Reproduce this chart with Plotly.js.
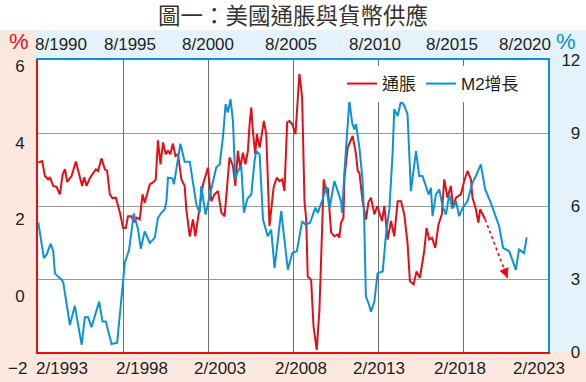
<!DOCTYPE html>
<html><head><meta charset="utf-8">
<script src="https://cdn.plot.ly/plotly-3.0.1.min.js"></script>
<style>html,body{margin:0;padding:0;background:#fff;}#chart{width:586px;height:382px;}</style>
</head><body><div id="chart"></div>
<script>
const titleText = '圖一：美國通脹與貨幣供應';
const seriesNames = ['通脹', 'M2增長'];

// Inflation (CPI yoy %), dated on bottom axis (decimal year)
const cpiYears = [1993.10,1993.33,1993.49,1993.68,1993.78,1993.98,1994.18,1994.37,1994.53,1994.67,1994.80,1995.06,1995.31,1995.55,1995.68,1995.80,1995.94,1996.13,1996.33,1996.49,1996.62,1996.82,1997.01,1997.15,1997.31,1997.47,1997.66,1997.78,1997.90,1998.09,1998.25,1998.38,1998.58,1998.72,1998.91,1999.07,1999.17,1999.23,1999.36,1999.66,1999.89,2000.01,2000.14,2000.29,2000.44,2000.60,2000.73,2000.87,2001.02,2001.17,2001.32,2001.52,2001.71,2001.81,2002.01,2002.20,2002.34,2002.49,2002.63,2002.79,2003.08,2003.28,2003.47,2003.67,2003.87,2004.06,2004.35,2004.55,2004.69,2004.84,2004.98,2005.14,2005.29,2005.43,2005.53,2005.63,2005.72,2005.86,2005.96,2006.12,2006.22,2006.37,2006.51,2006.62,2006.70,2006.85,2006.94,2007.13,2007.29,2007.45,2007.58,2007.74,2007.88,2008.04,2008.23,2008.46,2008.62,2008.76,2008.86,2008.95,2009.15,2009.29,2009.48,2009.64,2009.83,2009.89,2010.03,2010.13,2010.33,2010.52,2010.71,2010.81,2010.91,2011.05,2011.11,2011.30,2011.59,2011.79,2011.89,2011.99,2012.18,2012.38,2012.52,2012.67,2012.87,2013.04,2013.32,2013.46,2013.65,2013.85,2014.04,2014.24,2014.44,2014.63,2014.82,2014.96,2015.18,2015.35,2015.55,2015.80,2015.94,2016.10,2016.26,2016.45,2016.64,2016.84,2016.98,2017.17,2017.37,2017.51,2017.67,2017.96,2018.15,2018.35,2018.55,2018.64,2018.84,2018.99,2019.09,2019.39];
const cpiValues = [3.19,3.23,2.82,2.73,2.79,2.55,2.52,2.32,2.85,3.01,2.66,2.82,3.22,2.82,2.55,2.79,2.55,2.76,2.91,3.01,2.96,3.31,3.01,2.96,2.32,2.21,2.23,2.04,1.82,1.40,1.40,1.72,1.72,1.56,1.68,1.63,2.00,2.32,2.09,2.59,2.66,2.73,3.80,3.14,3.74,3.42,3.51,3.42,3.71,3.37,3.42,2.73,2.55,1.90,1.16,1.63,1.17,1.63,2.00,2.59,3.05,2.13,2.32,2.41,1.82,1.72,3.33,3.10,2.55,3.51,3.05,3.46,3.14,3.51,4.24,4.70,4.06,3.42,3.97,3.60,3.88,4.33,3.97,2.40,1.45,2.10,2.50,2.78,2.68,2.73,2.41,4.29,4.33,4.24,3.97,5.62,4.98,2.13,1.63,0.07,-0.02,-1.30,-1.94,-0.84,1.90,2.73,2.37,2.50,1.27,1.17,1.22,1.13,1.54,1.68,2.78,3.60,3.92,3.42,2.96,2.91,2.13,1.63,2.10,2.23,1.77,2.00,1.59,2.00,1.08,1.59,1.17,2.13,2.13,1.77,0.99,-0.06,-0.15,0.21,0.03,0.76,1.40,1.08,1.13,0.85,1.49,1.77,2.73,2.23,2.55,1.95,2.23,2.32,2.68,2.96,2.73,2.23,1.91,1.54,1.91,1.63];

// M2 growth (yoy %), dated on top axis (decimal year)
const m2Years = [1990.60,1990.93,1991.09,1991.33,1991.48,1991.58,1991.97,1992.07,1992.46,1992.75,1993.15,1993.34,1993.53,1993.73,1994.18,1994.38,1994.57,1994.91,1995.24,1995.69,1995.94,1996.22,1996.47,1996.63,1996.86,1997.16,1997.45,1997.64,1997.84,1998.04,1998.14,1998.23,1998.49,1998.58,1998.96,1999.21,1999.51,1999.90,2000.09,2000.19,2000.44,2000.68,2001.07,2001.27,2001.46,2001.62,2001.75,2001.91,2002.05,2002.19,2002.34,2002.54,2002.62,2002.70,2002.90,2003.13,2003.32,2003.42,2003.62,2003.77,2003.82,2004.10,2004.30,2004.50,2004.89,2005.28,2005.54,2005.81,2006.12,2006.32,2006.59,2006.90,2007.04,2007.33,2007.53,2007.73,2008.02,2008.41,2008.47,2008.61,2008.90,2009.06,2009.19,2009.29,2009.49,2009.68,2009.77,2009.87,2010.03,2010.17,2010.37,2010.56,2010.86,2011.06,2011.25,2011.44,2011.54,2011.74,2011.94,2012.13,2012.32,2012.52,2012.82,2013.01,2013.20,2013.40,2013.56,2013.70,2013.79,2013.99,2014.19,2014.38,2014.58,2014.77,2014.95,2015.17,2015.36,2015.55,2015.85,2016.14,2016.34,2016.63,2016.89,2017.22,2017.42,2017.71,2017.94,2018.30,2018.45,2018.69,2018.88,2019.18,2019.33];
const m2Values = [5.33,3.86,4.00,4.45,4.14,3.22,2.97,2.86,1.11,1.90,0.29,1.43,1.43,1.02,2.07,1.25,1.25,0.33,0.38,3.66,4.20,5.69,5.03,4.24,4.96,4.48,4.69,5.51,5.72,5.86,6.20,7.16,7.13,6.89,8.56,7.82,7.82,6.06,5.73,6.82,5.65,6.35,7.59,7.71,8.81,10.19,9.84,10.39,9.50,7.09,7.43,7.64,6.60,5.72,6.30,6.47,7.85,8.26,8.12,6.20,5.44,4.75,5.03,3.45,5.79,3.38,4.07,4.14,5.37,5.24,5.31,5.93,5.72,6.27,6.82,5.90,7.02,6.20,5.72,7.43,10.32,9.43,9.15,9.36,8.40,7.02,5.50,2.28,2.00,1.66,2.07,3.24,3.31,4.89,5.86,8.12,9.98,9.70,10.32,10.12,9.77,6.61,8.26,7.23,7.23,6.82,6.47,6.75,5.58,6.47,6.68,6.00,5.65,6.47,5.90,6.20,5.58,5.90,6.20,6.96,7.23,7.71,6.68,6.13,5.72,5.17,4.28,4.14,3.86,3.38,4.21,4.07,4.71];

// projected inflation end point (dotted arrow)
const projYear = 2020.70;
const projValue = 0.03;

const bottomLabels = ['2/1993','2/1998','2/2003','2/2008','2/2013','2/2018','2/2023'];
const topLabels = ['8/1990','8/1995','8/2000','8/2005','8/2010','8/2015','8/2020'];
const leftLabels = ['6','4','2','0'];
const leftBottomLabel = '−2';
const rightVals = [0,3,6,9,12];
const rightLabels = ['0','3','6','9','12'];

// ---------- layout helpers ----------
const W = 586, H = 382, L = 38, R = 38, T = 60, B = 30;
const PW = W - L - R, PH = H - T - B;
const X = px => (px - L) / PW;
const Y = py => (H - B - py) / PH;
const bottomRange = [1993 + 1/12, 2023 + 1/12];
const topRange = [1990 + 7/12, 2020 + 7/12];
const leftRange = [-2, 6];
const rightRange = [0, 12];
const xv = (px, r) => r[0] + X(px) * (r[1] - r[0]);
const yv = (py, r) => r[0] + Y(py) * (r[1] - r[0]);

const bottomLabelPx = [62,142,220,301,379,460,539];
const topLabelPx = [61,130,208,291,375,452,525];
const leftLabelPy = [66,143,219,296];
const gridYears = [1995,2000,2005,2010,2015].map(y => y + 7/12);

const RED = '#e50e17', BLUE = '#0a93d5';
const PINK = '#fce8df', LBLUE = '#e4f2fb';
const TXT = '#231f20';
const FONT = 'Liberation Sans, Arial, Noto Sans CJK TC, sans-serif';

const traces = [
  {x: cpiYears, y: cpiValues, xaxis: 'x', yaxis: 'y', type: 'scatter', mode: 'lines',
   name: seriesNames[0], line: {color: RED, width: 2}},
  {x: m2Years, y: m2Values, xaxis: 'x2', yaxis: 'y2', type: 'scatter', mode: 'lines',
   name: seriesNames[1], line: {color: BLUE, width: 2}},
  {x: [cpiYears[cpiYears.length-1], projYear], y: [cpiValues[cpiValues.length-1], projValue],
   xaxis: 'x', yaxis: 'y', type: 'scatter', mode: 'lines', showlegend: false,
   line: {color: RED, width: 1.6, dash: 'dot'}}
];

const tickFont = {family: FONT, size: 17, color: TXT};
const layout = {
  width: W, height: H,
  margin: {l: L, r: R, t: T, b: B, pad: 0},
  paper_bgcolor: '#ffffff', plot_bgcolor: '#ffffff',
  showlegend: true,
  title: {text: titleText, x: 0.5, xref: 'container', xanchor: 'center', y: 1 - 16/H, yref: 'container', yanchor: 'middle',
          font: {family: 'Noto Sans CJK TC, sans-serif', size: 22.5, color: '#333'}},
  xaxis: {range: bottomRange, showgrid: false, zeroline: false, showline: true, linecolor: RED, linewidth: 2,
          tickmode: 'array', tickvals: bottomLabelPx.map(p => xv(p, bottomRange)), ticktext: bottomLabels,
          ticks: '', tickfont: tickFont, ticklabelstandoff: 0, fixedrange: true},
  xaxis2: {range: topRange, overlaying: 'x', side: 'top', anchor: 'y', zeroline: false, showline: true, linecolor: BLUE, linewidth: 2,
           showgrid: false, tickmode: 'array', tickvals: topLabelPx.map(p => xv(p, topRange)), ticktext: topLabels,
           ticks: '', tickfont: tickFont, ticklabelstandoff: 1,
           minor: {tickmode: 'array', tickvals: gridYears, showgrid: true, gridcolor: '#6f6f6f', gridwidth: 1, ticks: ''}},
  yaxis: {range: leftRange, showgrid: false, zeroline: false, showline: true, linecolor: RED, linewidth: 2,
          tickmode: 'array', tickvals: leftLabelPy.map(p => yv(p, leftRange)), ticktext: leftLabels,
          ticks: '', tickfont: tickFont, ticklabelstandoff: 8,
          minor: {tickmode: 'array', tickvals: [0,2,4], showgrid: true, gridcolor: '#999', gridwidth: 1, ticks: ''}},
  yaxis2: {range: rightRange, overlaying: 'y', side: 'right', anchor: 'x', showgrid: false, zeroline: false,
           showline: true, linecolor: BLUE, linewidth: 2, tickmode: 'array', tickvals: rightVals,
           ticktext: rightLabels.map(t => t.length === 1 ? '\u2007' + t : t),
           ticks: '', tickfont: tickFont, ticklabelstandoff: 8},
  legend: {orientation: 'h', x: X(342), y: Y(84), xanchor: 'left', yanchor: 'middle', bgcolor: '#ffffff',
           borderwidth: 0, font: {family: FONT, size: 17, color: TXT}, itemwidth: 30, traceorder: 'normal'},
  shapes: [
    {type: 'rect', xref: 'paper', yref: 'paper', x0: X(0), x1: X(L), y0: Y(H), y1: Y(30), fillcolor: PINK, line: {width: 0}, layer: 'below'},
    {type: 'rect', xref: 'paper', yref: 'paper', x0: X(0), x1: X(W), y0: Y(H), y1: Y(H - B), fillcolor: PINK, line: {width: 0}, layer: 'below'},
    {type: 'rect', xref: 'paper', yref: 'paper', x0: X(35), x1: X(W), y0: Y(T), y1: Y(30), fillcolor: LBLUE, line: {width: 0}, layer: 'below'},
    {type: 'rect', xref: 'paper', yref: 'paper', x0: X(W - R), x1: X(W), y0: Y(H - B), y1: Y(30), fillcolor: LBLUE, line: {width: 0}, layer: 'below'}
  ],
  annotations: [
    {text: leftBottomLabel, xref: 'paper', yref: 'paper', x: X(29), y: Y(368), xanchor: 'right', yanchor: 'middle', showarrow: false, font: tickFont},
    {text: '%', xref: 'paper', yref: 'paper', x: X(19), y: Y(41), xanchor: 'center', yanchor: 'middle', showarrow: false, font: {family: FONT, size: 22, color: RED}},
    {text: '%', xref: 'paper', yref: 'paper', x: X(566), y: Y(41), xanchor: 'center', yanchor: 'middle', showarrow: false, font: {family: FONT, size: 22, color: BLUE}},
    {text: '', xref: 'x', yref: 'y', x: projYear, y: projValue, axref: 'x', ayref: 'y',
     ax: projYear - 0.25, ay: projValue + 0.3, showarrow: true, arrowhead: 2, arrowsize: 1.2, arrowwidth: 1.6, arrowcolor: RED}
  ]
};

Plotly.newPlot('chart', traces, layout, {staticPlot: true, displayModeBar: false});
</script></body></html>
